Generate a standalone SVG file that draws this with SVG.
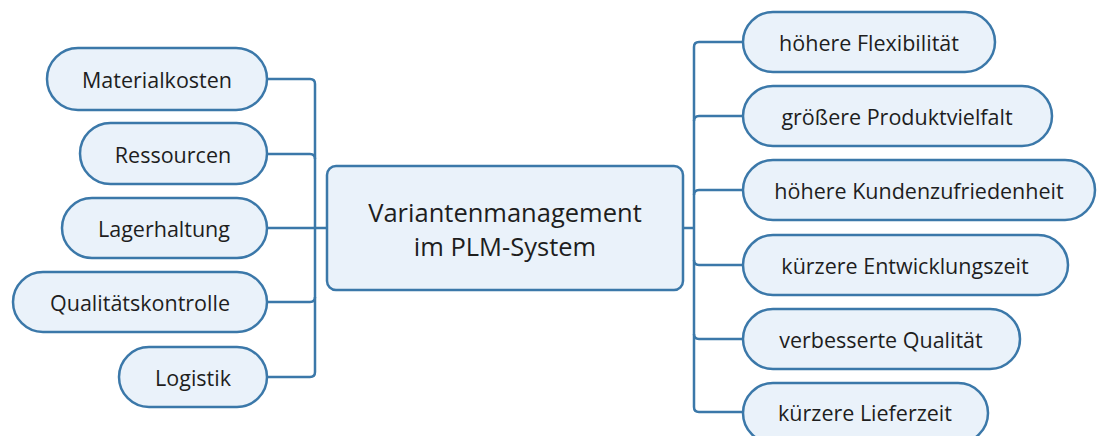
<svg xmlns="http://www.w3.org/2000/svg" width="1099" height="436" viewBox="0 0 1099 436">
<style>
.n{fill:#eaf2fa;stroke:#3b78a9;stroke-width:2.5}
.t{font-family:"Open Sans","Noto Sans",sans-serif;font-size:21.5px;fill:#1e1e1e;text-anchor:middle;dominant-baseline:central}
.c{font-size:25.5px}
.e{fill:none;stroke:#3b78a9;stroke-width:2.5}
</style>
<rect width="1099" height="436" fill="#fff"/>
<g id="connectors">
<path class="e" d="M267,79 H310 Q315,79 315,84 V372 Q315,377 310,377 H267"/>
<path class="e" d="M267,154 H310 Q315,154 315,159"/>
<path class="e" d="M267,228 H327"/>
<path class="e" d="M267,302 H310 Q315,302 315,297"/>
<path class="e" d="M743,42 H699 Q694,42 694,47 V407 Q694,412 699,412 H743"/>
<path class="e" d="M694,121 Q694,116 699,116 H743"/>
<path class="e" d="M694,195 Q694,190 699,190 H743"/>
<path class="e" d="M683,228 H694"/>
<path class="e" d="M694,260 Q694,265 699,265 H743"/>
<path class="e" d="M694,334 Q694,339 699,339 H743"/>
</g>
<g id="center">
<rect class="n" x="327" y="166" width="356" height="124" rx="9"/>
<text class="t c" x="505" y="212">Variantenmanagement</text>
<text class="t c" x="505" y="246">im PLM-System</text>
</g>
<g id="materialkosten"><rect class="n" x="47" y="48" width="220" height="62" rx="31"/><text class="t" x="157" y="79">Materialkosten</text></g>
<g id="ressourcen"><rect class="n" x="80" y="123" width="187" height="61" rx="30.5"/><text class="t" x="173" y="154">Ressourcen</text></g>
<g id="lagerhaltung"><rect class="n" x="62" y="198" width="205" height="60" rx="30"/><text class="t" x="164" y="228">Lagerhaltung</text></g>
<g id="qualitaetskontrolle"><rect class="n" x="13" y="272" width="254" height="60" rx="30"/><text class="t" x="140" y="302">Qualitätskontrolle</text></g>
<g id="logistik"><rect class="n" x="119" y="347" width="148" height="60" rx="30"/><text class="t" x="193" y="377">Logistik</text></g>
<g id="flexibilitaet"><rect class="n" x="743" y="12" width="252" height="60" rx="30"/><text class="t" x="869" y="42">höhere Flexibilität</text></g>
<g id="produktvielfalt"><rect class="n" x="743" y="86" width="309" height="60" rx="30"/><text class="t" x="897" y="116">größere Produktvielfalt</text></g>
<g id="kundenzufriedenheit"><rect class="n" x="743" y="160" width="352" height="60" rx="30"/><text class="t" x="919" y="190">höhere Kundenzufriedenheit</text></g>
<g id="entwicklungszeit"><rect class="n" x="743" y="235" width="325" height="60" rx="30"/><text class="t" x="905" y="265">kürzere Entwicklungszeit</text></g>
<g id="qualitaet"><rect class="n" x="743" y="309" width="277" height="60" rx="30"/><text class="t" x="881" y="339">verbesserte Qualität</text></g>
<g id="lieferzeit"><rect class="n" x="743" y="383" width="245" height="60" rx="30"/><text class="t" x="865" y="412">kürzere Lieferzeit</text></g>
</svg>
